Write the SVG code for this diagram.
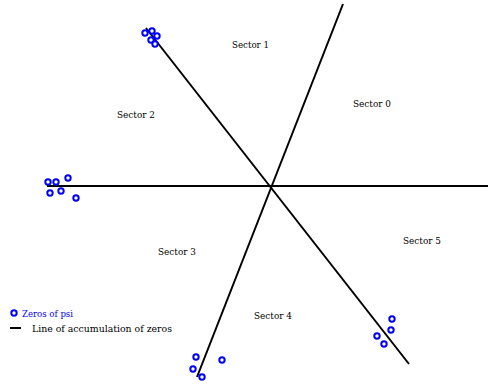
<svg xmlns="http://www.w3.org/2000/svg" width="488" height="384" viewBox="0 0 488 384">
<style>
text{font-family:"DejaVu Serif","Liberation Serif",serif;font-size:10px;fill:#000}
.z{fill:#fff;stroke:#0000ff;stroke-width:2}
.ln{stroke:#000;stroke-width:2;fill:none}
</style>
<defs><circle id="zc" r="2.7" class="z"/></defs>
<rect width="488" height="384" fill="#fff"/>
<g id="connectors">
<line class="ln" x1="47" y1="186" x2="488" y2="186"/>
<line class="ln" x1="138" y1="186" x2="322" y2="186" stroke-width="3"/>
<line class="ln" x1="343" y1="4" x2="197" y2="377"/>
<line class="ln" x1="146" y1="28" x2="409" y2="364"/>
</g>
<g id="zeros">
<use href="#zc" x="145" y="33"/><use href="#zc" x="152" y="31"/><use href="#zc" x="157" y="36"/>
<use href="#zc" x="151" y="40"/><use href="#zc" x="155" y="44"/>
<use href="#zc" x="48" y="182"/><use href="#zc" x="56" y="182"/><use href="#zc" x="68" y="178"/>
<use href="#zc" x="50" y="193"/><use href="#zc" x="61" y="191"/><use href="#zc" x="76" y="198"/>
<use href="#zc" x="392" y="319"/><use href="#zc" x="391" y="330"/><use href="#zc" x="377" y="336"/><use href="#zc" x="384" y="344"/>
<use href="#zc" x="196" y="357"/><use href="#zc" x="222" y="360"/><use href="#zc" x="193" y="369"/><use href="#zc" x="202" y="377"/>
</g>
<g id="sector1"><text x="232" y="48" textLength="37" lengthAdjust="spacingAndGlyphs">Sector 1</text></g>
<g id="sector0"><text x="353" y="107" textLength="38" lengthAdjust="spacingAndGlyphs">Sector 0</text></g>
<g id="sector2"><text x="117" y="118" textLength="38" lengthAdjust="spacingAndGlyphs">Sector 2</text></g>
<g id="sector3"><text x="158" y="255" textLength="38" lengthAdjust="spacingAndGlyphs">Sector 3</text></g>
<g id="sector5"><text x="403" y="244" textLength="38" lengthAdjust="spacingAndGlyphs">Sector 5</text></g>
<g id="sector4"><text x="254" y="319" textLength="38" lengthAdjust="spacingAndGlyphs">Sector 4</text></g>
<g id="legend">
<use href="#zc" x="14" y="313"/>
<text x="22" y="317" style="fill:#0000ff" textLength="51" lengthAdjust="spacingAndGlyphs">Zeros of psi</text>
<line class="ln" x1="10" y1="328" x2="21" y2="328"/>
<text x="32" y="332" textLength="140" lengthAdjust="spacingAndGlyphs">Line of accumulation of zeros</text>
</g>
</svg>
